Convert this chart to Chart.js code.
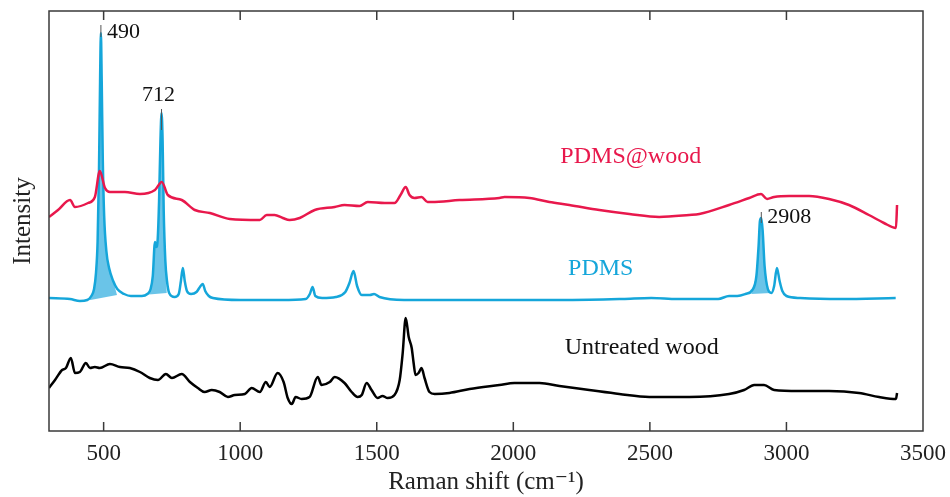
<!DOCTYPE html>
<html>
<head>
<meta charset="utf-8">
<script src="https://cdn.jsdelivr.net/npm/chart.js@4"></script>
<style>
  html, body { margin: 0; padding: 0; background: #fff; }
  canvas { display: block; }
</style>
</head>
<body>
<canvas id="raman" width="950" height="497"></canvas>
<script>
// Raman shift (cm^-1) positions and intensities (arbitrary units)
const xTicks = [500, 1000, 1500, 2000, 2500, 3000, 3500];

const pdmsWoodX = [300, 333, 377, 395, 443, 468, 486, 505, 523, 578, 633, 688, 713, 735, 786, 834, 889, 962, 1072, 1097, 1126, 1156, 1181, 1218, 1273, 1346, 1382, 1437, 1467, 1529, 1565, 1587, 1606, 1620, 1638, 1664, 1686, 1701, 1803, 1949, 1968, 2059, 2132, 2205, 2315, 2425, 2534, 2644, 2681, 2790, 2864, 2907, 2929, 2955, 3010, 3083, 3156, 3229, 3302, 3357, 3401, 3405];
const pdmsWoodY = [214, 221, 231, 224, 228, 234, 260, 243, 239, 239, 237, 241, 249, 236, 231, 221, 218, 212, 211, 216, 216, 213, 211, 213, 221, 224, 226, 225, 229, 228, 228, 236, 244, 236, 233, 234, 229, 229, 231, 233, 234, 233, 229, 226, 221, 217, 214, 216, 217, 226, 233, 237, 232, 234, 235, 235, 232, 226, 216, 208, 203, 226];

const pdmsX = [300, 377, 413, 440, 455, 465, 472, 478, 483, 487, 490, 493, 497, 502, 510, 520, 535, 550, 575, 600, 640, 660, 672, 680, 688, 693, 698, 703, 708, 712, 716, 720, 726, 732, 740, 760, 775, 783, 790, 797, 805, 820, 840, 855, 863, 872, 885, 900, 1000, 1150, 1240, 1255, 1265, 1275, 1300, 1350, 1385, 1400, 1415, 1428, 1445, 1475, 1490, 1510, 1600, 1800, 2000, 2200, 2400, 2505, 2600, 2750, 2790, 2820, 2850, 2875, 2890, 2898, 2903, 2908, 2913, 2920, 2932, 2945, 2955, 2965, 2975, 2985, 3000, 3050, 3200, 3400];
const pdmsY = [133, 132, 130, 131, 135, 142, 158, 190, 260, 350, 398, 350, 270, 215, 180, 163, 150, 142, 137, 135, 135, 137, 142, 155, 189, 184, 192, 230, 290, 318, 290, 220, 170, 150, 138, 134, 137, 150, 163, 150, 140, 137, 139, 145, 147, 140, 135, 133, 131, 131, 132, 137, 144, 135, 133, 134, 139, 148, 160, 145, 136, 136, 137, 134, 131, 131, 131, 131, 132, 133, 132, 132, 135, 135, 137, 141, 155, 185, 210, 213, 200, 165, 142, 138, 145, 163, 150, 140, 135, 133, 132, 133];

const woodX = [300, 322, 348, 362, 380, 395, 413, 435, 450, 468, 486, 523, 560, 596, 633, 669, 699, 728, 750, 786, 816, 845, 870, 896, 925, 955, 980, 1017, 1042, 1072, 1094, 1108, 1137, 1159, 1174, 1189, 1203, 1225, 1254, 1284, 1298, 1328, 1346, 1382, 1408, 1430, 1445, 1463, 1481, 1503, 1521, 1540, 1565, 1584, 1595, 1606, 1617, 1628, 1635, 1642, 1653, 1664, 1675, 1693, 1712, 1766, 1840, 1949, 2004, 2096, 2169, 2278, 2388, 2498, 2644, 2790, 2845, 2882, 2918, 2955, 3046, 3156, 3266, 3339, 3401, 3405];
const woodY = [43, 51, 61, 63, 73, 58, 59, 68, 63, 64, 63, 67, 64, 63, 59, 53, 51, 57, 53, 57, 49, 43, 39, 41, 39, 34, 36, 37, 43, 39, 49, 44, 58, 49, 33, 27, 34, 32, 34, 54, 46, 49, 54, 48, 39, 34, 36, 48, 41, 33, 35, 33, 36, 51, 78, 113, 94, 83, 68, 56, 58, 63, 53, 39, 37, 38, 42, 46, 48, 48, 45, 41, 37, 34, 34, 37, 41, 46, 46, 41, 40, 40, 38, 34, 32, 38];

// shaded PDMS bands: [start x, baseline, end x, baseline]
const fillBands = [
  [432, 130, 549, 136],
  [644, 136, 731, 138],
  [2871, 137, 2944, 138]
];

// peak annotations: [peak x, marker top, marker bottom, label]
const peakLabels = [
  [490, 406, 394, '490'],
  [712, 322, 301, '712'],
  [2908, 219, 208, '2908']
];

const seriesNames = ['PDMS@wood', 'PDMS', 'Untreated wood'];
const seriesLabelPos = [[2430, 274], [2320, 162], [2470, 83]];

const RED = '#e8184c';
const CYAN = '#15a6da';
const SERIF = "'Liberation Serif', 'DejaVu Serif', serif";

const zip = (xs, ys) => xs.map((x, i) => ({ x: x, y: ys[i] }));

const decorPlugin = {
  id: 'decor',
  beforeDatasetsDraw(chart) {
    const { ctx, scales: { x, y } } = chart;
    ctx.save();
    ctx.fillStyle = 'rgba(80, 186, 228, 0.85)';
    fillBands.forEach(b => {
      ctx.beginPath();
      ctx.moveTo(x.getPixelForValue(b[0]), y.getPixelForValue(b[1]));
      pdmsX.forEach((px, i) => {
        if (px > b[0] && px < b[2]) {
          ctx.lineTo(x.getPixelForValue(px), y.getPixelForValue(pdmsY[i]));
        }
      });
      ctx.lineTo(x.getPixelForValue(b[2]), y.getPixelForValue(b[3]));
      ctx.closePath();
      ctx.fill();
    });
    ctx.restore();
  },
  afterDraw(chart) {
    const { ctx, chartArea: a, scales: { x, y } } = chart;
    ctx.save();
    // frame
    ctx.strokeStyle = '#3a3a3a';
    ctx.lineWidth = 1.5;
    ctx.strokeRect(a.left, a.top, a.right - a.left, a.bottom - a.top);
    // inward ticks, top and bottom
    ctx.beginPath();
    xTicks.forEach(v => {
      const px = x.getPixelForValue(v);
      if (px <= a.left + 1 || px >= a.right - 1) return;
      ctx.moveTo(px, a.bottom); ctx.lineTo(px, a.bottom - 9);
      ctx.moveTo(px, a.top); ctx.lineTo(px, a.top + 9);
    });
    ctx.stroke();
    // peak markers and labels
    ctx.strokeStyle = '#555';
    ctx.lineWidth = 1;
    peakLabels.forEach(p => {
      const px = x.getPixelForValue(p[0]);
      ctx.beginPath();
      ctx.moveTo(px, y.getPixelForValue(p[1]));
      ctx.lineTo(px, y.getPixelForValue(p[2]));
      ctx.stroke();
    });
    ctx.fillStyle = '#111';
    ctx.font = '22px ' + SERIF;
    ctx.textBaseline = 'middle';
    ctx.textAlign = 'left';
    ctx.fillText('490', x.getPixelForValue(490) + 6, y.getPixelForValue(399));
    ctx.textAlign = 'center';
    ctx.fillText('712', x.getPixelForValue(712) - 3, y.getPixelForValue(336));
    ctx.textAlign = 'left';
    ctx.fillText('2908', x.getPixelForValue(2908) + 6, y.getPixelForValue(214));
    // series names
    ctx.textAlign = 'center';
    ctx.font = '24px ' + SERIF;
    const colors = [RED, CYAN, '#111'];
    seriesNames.forEach((n, i) => {
      ctx.fillStyle = colors[i];
      ctx.fillText(n, x.getPixelForValue(seriesLabelPos[i][0]), y.getPixelForValue(seriesLabelPos[i][1]));
    });
    ctx.restore();
  }
};

new Chart(document.getElementById('raman'), {
  type: 'line',
  data: {
    datasets: [
      { label: 'PDMS@wood', data: zip(pdmsWoodX, pdmsWoodY), borderColor: RED, borderWidth: 2.5 },
      { label: 'PDMS', data: zip(pdmsX, pdmsY), borderColor: CYAN, borderWidth: 2.5 },
      { label: 'Untreated wood', data: zip(woodX, woodY), borderColor: '#000', borderWidth: 2.5 }
    ]
  },
  options: {
    responsive: false,
    animation: false,
    devicePixelRatio: 1,
    layout: { padding: { top: 11, right: 27, left: 0, bottom: 0 } },
    elements: { point: { radius: 0 }, line: { cubicInterpolationMode: 'monotone', borderJoinStyle: 'round' } },
    plugins: { legend: { display: false }, tooltip: { enabled: false } },
    scales: {
      x: {
        type: 'linear',
        min: 300,
        max: 3500,
        afterBuildTicks: s => { s.ticks = xTicks.map(v => ({ value: v })); },
        afterFit: s => { s.height = 66; s.paddingRight = 0; s.paddingLeft = 0; },
        grid: { display: false, drawTicks: false },
        border: { display: false },
        ticks: { font: { family: SERIF, size: 23 }, color: '#222', padding: 9, maxRotation: 0, callback: v => String(v) },
        title: { display: true, text: 'Raman shift (cm\u207B\u00B9)', font: { family: SERIF, size: 25 }, color: '#222', padding: { top: 0, bottom: 0 } }
      },
      y: {
        min: 0,
        max: 420,
        afterFit: s => { s.width = 49; },
        grid: { display: false, drawTicks: false },
        border: { display: false },
        ticks: { display: false },
        title: { display: true, text: 'Intensity', font: { family: SERIF, size: 25 }, color: '#222', padding: { top: 8, bottom: 0 } }
      }
    }
  },
  plugins: [decorPlugin]
});
</script>
</body>
</html>
